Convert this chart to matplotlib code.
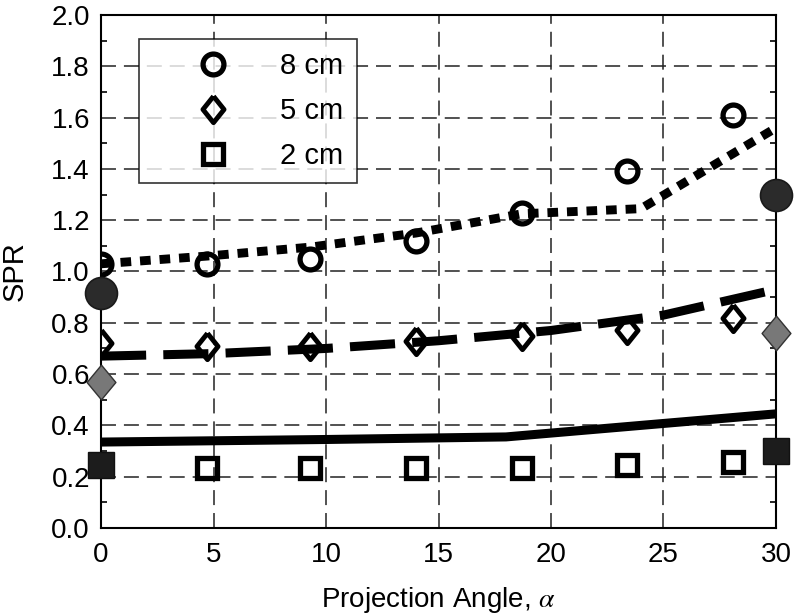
import matplotlib
matplotlib.use("Agg")
import matplotlib.pyplot as plt
from matplotlib.ticker import MultipleLocator, FormatStrFormatter

plt.rcParams['font.family'] = ['Liberation Sans', 'DejaVu Sans']
plt.rcParams['mathtext.fontset'] = 'stix'

# measured points (open markers)
angles = [0, 4.7, 9.3, 14.0, 18.7, 23.4, 28.1]
spr_8cm = [1.03, 1.03, 1.05, 1.12, 1.23, 1.39, 1.61]
spr_5cm = [0.72, 0.71, 0.71, 0.73, 0.75, 0.77, 0.82]
spr_2cm = [0.245, 0.233, 0.233, 0.233, 0.233, 0.245, 0.256]

# model curves
line8_x = [0, 4.7, 9.3, 14.0, 18.7, 24.0, 30]
line8_y = [1.03, 1.06, 1.095, 1.15, 1.225, 1.245, 1.56]
line5_x = [0, 5, 10, 15, 20, 25, 30]
line5_y = [0.67, 0.68, 0.70, 0.73, 0.77, 0.83, 0.93]
line2_x = [0, 10, 18, 30]
line2_y = [0.335, 0.345, 0.355, 0.445]

# reference values at the two end angles (filled markers)
end_x = [0, 30]
end_8cm = [0.915, 1.30]
end_5cm = [0.57, 0.76]
end_2cm = [0.245, 0.30]

diamond_open = [(0, 1), (0.8, 0), (0, -1), (-0.8, 0), (0, 1)]
diamond_fill = [(0, 1), (0.83, 0), (0, -1), (-0.83, 0), (0, 1)]

fig = plt.figure(figsize=(7.98, 6.13), dpi=100)
ax = fig.add_axes([0.1266, 0.1387, 0.8458, 0.8368])

ax.grid(True, which='major', color='#222222', linestyle=(0, (9.8, 5.2)),
        linewidth=1.1, zorder=0)
ax.set_axisbelow(True)

# open markers
ax.plot(angles, spr_8cm, linestyle='none', marker='o', ms=15, mew=3.8,
        mfc='none', mec='black', zorder=3, label='8 cm')
ax.plot(angles, spr_5cm, linestyle='none', marker=diamond_open, ms=19, mew=3.5,
        mfc='none', mec='black', zorder=3, label='5 cm')
ax.plot(angles[1:], spr_2cm[1:], linestyle='none', marker='s', ms=14.5, mew=3.8,
        mfc='none', mec='black', zorder=3, label='2 cm')

# model curves
ax.plot(line8_x, line8_y, color='black', linewidth=6.4, linestyle=(0, (1.2, 1.0)),
        dash_capstyle='butt', zorder=4)
ax.plot(line5_x, line5_y, color='black', linewidth=6.5, linestyle=(0, (5.0, 1.9)),
        dash_capstyle='butt', zorder=4)
ax.plot(line2_x, line2_y, color='black', linewidth=6.5, linestyle='-',
        solid_capstyle='butt', zorder=4)

# filled end markers
ax.plot(end_x, end_8cm, linestyle='none', marker='o', ms=23, mfc='#2b2b2b',
        mec='#1a1a1a', mew=1.2, zorder=6, clip_on=False)
ax.plot(end_x, end_5cm, linestyle='none', marker=diamond_fill, ms=25, mfc='#787878',
        mec='#333333', mew=1.0, zorder=6, clip_on=False)
ax.plot(end_x, end_2cm, linestyle='none', marker='s', ms=19, mfc='#1c1c1c',
        mec='#111111', mew=1.0, zorder=6, clip_on=False)

ax.set_xlim(0, 30)
ax.set_ylim(0, 2.0)
ax.xaxis.set_major_locator(MultipleLocator(5))
ax.yaxis.set_major_locator(MultipleLocator(0.2))
ax.yaxis.set_minor_locator(MultipleLocator(0.1))
ax.yaxis.set_major_formatter(FormatStrFormatter('%.1f'))

ax.tick_params(axis='both', which='both', direction='in', labelsize=20, width=1.2)
ax.tick_params(axis='y', which='both', right=True, pad=8)
ax.tick_params(axis='y', which='major', length=0)
ax.tick_params(axis='y', which='minor', length=4)
ax.tick_params(axis='x', which='major', length=0, pad=10)
for sp in ax.spines.values():
    sp.set_linewidth(1.5)

ax.set_xlabel('Projection Angle, $\\alpha$', fontsize=20, labelpad=12)
ax.set_ylabel('SPR', fontsize=21, labelpad=16)

leg = ax.legend(loc='upper left', bbox_to_anchor=(0.0563, 0.953), frameon=True,
                fancybox=False, edgecolor='black', fontsize=21, handlelength=4.2,
                handletextpad=0.2, borderpad=0.45, labelspacing=0.58,
                borderaxespad=0, markerscale=1.0)
leg.get_frame().set_linewidth(1.2)
leg.set_zorder(7)

fig.savefig('out.png', dpi=100)
